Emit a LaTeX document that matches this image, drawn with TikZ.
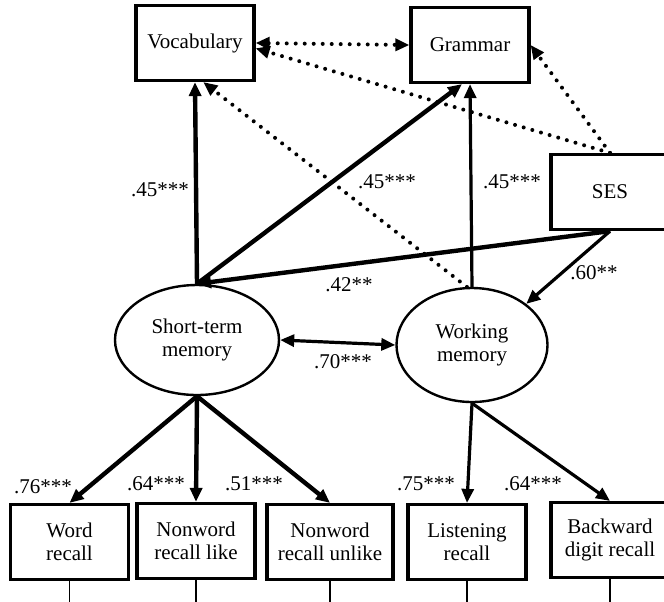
\documentclass[tikz,border=0pt]{standalone}
\usepackage{fontspec}
\setmainfont{Liberation Serif}
\usepackage{tikz}
\usetikzlibrary{arrows.meta}
\usetikzlibrary{shapes.geometric}

\begin{document}
\begin{tikzpicture}[x=0.5pt, y=-0.5pt,
    every node/.style={font=\fontsize{10.5}{11.5}\selectfont},
    caja/.style={draw, line width=1.6pt, rectangle, minimum width=59pt, minimum height=37.5pt, align=center, inner sep=1pt},
    latente/.style={draw, line width=1.2pt, ellipse, inner sep=0pt, align=center},
    gruesa/.style={line width=2.2pt},
    media/.style={line width=1.6pt},
    punteada/.style={line width=2pt, dash pattern=on 0pt off 4.5pt, line cap=round},
    >={Triangle[length=7pt, width=6pt]}]
              \useasboundingbox (0,0) rectangle (664,601);
              \clip (0,0) rectangle (664,601);

              % Nodos
              \node[caja] (voc) at (195,43) {Vocabulary};
              \node[caja] (gram) at (470,45) {Grammar};
              \node[caja] (ses) at (610,192) {SES};
              \node[latente, minimum width=82pt, minimum height=55pt] (stm) at (197,340) {Short-term\\memory};
              \node[latente, minimum width=75.5pt, minimum height=57pt] (wm) at (472,345) {Working\\memory};
              \node[caja] (word) at (69.5,542) {Word\\recall};
              \node[caja] (like) at (196,541) {Nonword\\recall like};
              \node[caja, minimum width=63pt] (unlike) at (330,542) {Nonword\\recall unlike};
              \node[caja] (listen) at (467,542) {Listening\\recall};
              \node[caja] (back) at (610,540) {Backward\\digit recall};

              % Aristas
              \draw[->, gruesa] (stm.north) -- (voc.south);
              \draw[->, gruesa] (stm.north) -- ([xshift=-4pt]gram.south);
              \draw[->, media] (wm.north) -- (gram.south);
              \draw[->, gruesa] (ses.south) -- (stm.north);
              \draw[->, media] (ses.south) -- (wm.north east);
              \draw[<->, media] (stm.east) -- (wm.west);
              \draw[<->, punteada] (voc.east) -- (gram.west);
              \draw[->, punteada] (ses.north) -- (voc.355);
              \draw[->, punteada] (ses.north) -- (gram.east);
              \draw[->, punteada] (wm.95) -- (voc.-78);
              \draw[->, gruesa] (stm.south) -- (word.north);
              \draw[->, gruesa] (stm.south) -- (like.north);
              \draw[->, gruesa] (stm.south) -- (unlike.north);
              \draw[->, media] (wm.south) -- (listen.north);
              \draw[->, media] (wm.south) -- (back.north);
              \foreach \n in {word,like,unlike,listen,back}
                \draw[line width=0.6pt] (\n.south) -- ++(0,30);

              % Pesos
              \node (p1) at (160,190) {.45***};
              \node (p2) at (387,182) {.45***};
              \node (p3) at (512,182) {.45***};
              \node (p4) at (349,285) {.42**};
              \node (p5) at (594,273) {.60**};
              \node (p6) at (343,362) {.70***};
              \node (p7) at (43,487) {.76***};
              \node (p8) at (156,484) {.64***};
              \node (p9) at (254,484) {.51***};
              \node (p10) at (426,484) {.75***};
              \node (p11) at (533,484) {.64***};
            \end{tikzpicture}
\end{document}
